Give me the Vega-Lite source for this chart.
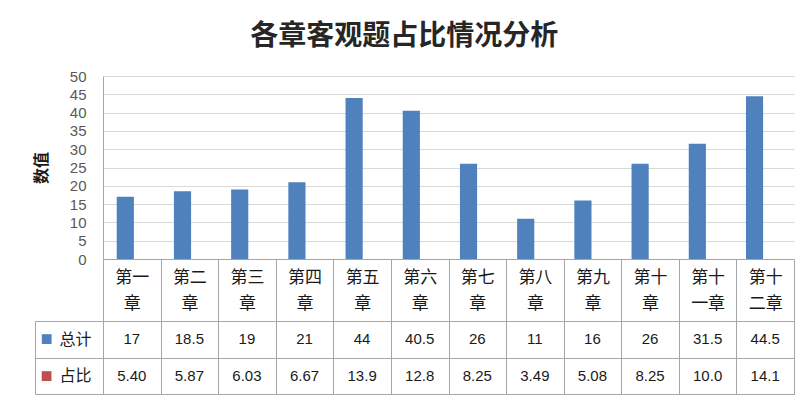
{
  "$schema": "https://vega.github.io/schema/vega-lite/v6.json",
  "padding": {"left": 33, "top": 23, "right": 7, "bottom": 7},
  "background": "white",
  "title": {"text": "各章客观题占比情况分析", "fontSize": 28, "font": "Noto Sans CJK SC", "fontWeight": "bold", "color": "#262626", "offset": 18, "anchor": "middle", "dx": -10},
  "data": {"values": [
    {"chapter": "第一章", "总计": 17, "占比": 5.40},
    {"chapter": "第二章", "总计": 18.5, "占比": 5.87},
    {"chapter": "第三章", "总计": 19, "占比": 6.03},
    {"chapter": "第四章", "总计": 21, "占比": 6.67},
    {"chapter": "第五章", "总计": 44, "占比": 13.9},
    {"chapter": "第六章", "总计": 40.5, "占比": 12.8},
    {"chapter": "第七章", "总计": 26, "占比": 8.25},
    {"chapter": "第八章", "总计": 11, "占比": 3.49},
    {"chapter": "第九章", "总计": 16, "占比": 5.08},
    {"chapter": "第十章", "总计": 26, "占比": 8.25},
    {"chapter": "第十一章", "总计": 31.5, "占比": 10.0},
    {"chapter": "第十二章", "总计": 44.5, "占比": 14.1}
  ]},
  "spacing": 62,
  "bounds": "flush",
  "config": {"view": {"stroke": null}, "font": "Liberation Sans"},
  "resolve": {"scale": {"x": "independent", "y": "independent"}},
  "vconcat": [
    {
      "width": 691,
      "height": 183,
      "mark": {"type": "bar", "color": "#4f81bd"},
      "encoding": {
        "x": {"field": "chapter", "type": "nominal", "sort": null,
          "scale": {"paddingInner": 0.4, "paddingOuter": 0.24},
          "axis": {"labels": false, "ticks": false, "title": null, "domain": true, "domainColor": "#a6a6a6"}},
        "xOffset": {"datum": "总计", "type": "nominal", "scale": {"domain": ["总计", "占比"]}},
        "y": {"field": "总计", "type": "quantitative", "scale": {"domain": [0, 50]},
          "axis": {"title": "数值", "titleFont": "Noto Sans CJK SC", "titleFontSize": 16, "titleFontWeight": "bold", "titleColor": "#1a1a1a", "titlePadding": 20,
            "values": [0, 5, 10, 15, 20, 25, 30, 35, 40, 45, 50], "labelFontSize": 15, "labelColor": "#595959", "labelPadding": 17,
            "ticks": false, "domain": true, "domainColor": "#a6a6a6", "grid": true, "gridColor": "#d9d9d9"}}
      }
    },
    {
      "width": 691,
      "height": 73,
      "view": {"stroke": "#a6a6a6"},
      "resolve": {"axis": {"y": "independent"}},
      "layer": [
        {
          "mark": {"type": "text", "fontSize": 15, "color": "#1a1a1a"},
          "encoding": {
            "x": {"field": "chapter", "type": "nominal", "sort": null,
              "scale": {"paddingInner": 0, "paddingOuter": 0},
              "axis": {"orient": "top", "title": null, "domain": true, "domainColor": "#a6a6a6", "ticks": true, "tickBand": "extent", "tickSize": 62, "tickColor": "#a6a6a6",
                "labelPadding": -10, "labelBaseline": "top", "labelFontSize": 17, "labelFont": "Noto Sans CJK SC", "labelColor": "#1a1a1a", "labelLineHeight": 26, "labelAngle": 0,
                "labelExpr": "[substring(datum.label, 0, 2), substring(datum.label, 2)]",
                "grid": true, "gridColor": "#a6a6a6"}},
            "y": {"datum": "总计", "type": "nominal", "scale": {"domain": ["总计", "占比"], "paddingInner": 0, "paddingOuter": 0},
              "axis": {"orient": "left", "title": null, "domain": false, "ticks": true, "tickBand": "extent", "tickSize": 68, "tickColor": "#a6a6a6",
                "labelPadding": -56, "labelFontSize": 16, "labelFont": "Noto Sans CJK SC", "labelColor": "#1a1a1a", "grid": true, "gridColor": "#a6a6a6"}},
            "text": {"field": "总计", "type": "quantitative"}
          }
        },
        {
          "mark": {"type": "text", "fontSize": 15, "color": "#1a1a1a"},
          "encoding": {
            "x": {"field": "chapter", "type": "nominal", "sort": null},
            "y": {"datum": "占比", "type": "nominal",
              "axis": {"orient": "left", "offset": 68, "title": null, "domain": true, "domainColor": "#a6a6a6", "ticks": false, "grid": false,
                "labelExpr": "'■'", "labelColor": {"expr": "datum.value == '总计' ? '#4f81bd' : '#c0504d'"}, "labelAlign": "left", "labelPadding": -5, "labelFontSize": 20}},
            "text": {"field": "占比", "type": "quantitative", "format": ".3r"}
          }
        }
      ]
    }
  ]
}
